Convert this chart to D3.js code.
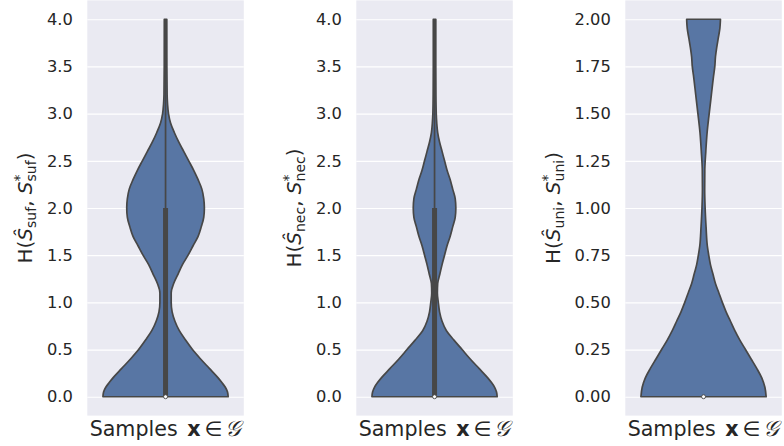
<!DOCTYPE html>
<html>
<head>
<meta charset="utf-8">
<script src="https://cdn.jsdelivr.net/npm/d3@7"></script>
<style>
  body { margin: 0; background: #ffffff; }
  svg { display: block; font-family: "DejaVu Sans", sans-serif; }
</style>
</head>
<body>
<div id="chart"></div>
<script>
// violin outlines: value level -> relative half width (1 = widest)
const levels1 = [0, 0.05, 0.1, 0.15, 0.2, 0.3, 0.4, 0.5, 0.6, 0.7, 0.8, 0.9, 1.0, 1.1, 1.2, 1.3, 1.4, 1.5, 1.6, 1.7, 1.8, 1.9, 2.0,
  2.1, 2.2, 2.3, 2.4, 2.5, 2.6, 2.7, 2.8, 2.9, 3.0, 3.1, 3.2, 3.5, 4.0];
const density1 = [1.0, 0.99, 0.955, 0.9, 0.84, 0.7, 0.56, 0.43, 0.32, 0.22, 0.15, 0.105, 0.09, 0.09, 0.13, 0.2, 0.27, 0.36, 0.44, 0.52, 0.57, 0.61, 0.62,
  0.61, 0.58, 0.52, 0.45, 0.37, 0.29, 0.21, 0.14, 0.08, 0.047, 0.032, 0.025, 0.021, 0.02];

const levels2 = [0, 0.05, 0.1, 0.15, 0.2, 0.3, 0.4, 0.5, 0.6, 0.7, 0.8, 0.9, 1.0, 1.1, 1.2, 1.3, 1.4, 1.5, 1.6, 1.7, 1.8, 1.9, 2.0,
  2.1, 2.2, 2.3, 2.4, 2.5, 2.6, 2.7, 2.8, 2.9, 3.0, 3.2, 3.5, 4.0];
const density2 = [1.0, 0.99, 0.96, 0.91, 0.85, 0.71, 0.57, 0.44, 0.31, 0.19, 0.12, 0.08, 0.06, 0.045, 0.05, 0.085, 0.12, 0.16, 0.2, 0.25, 0.29, 0.33, 0.34,
  0.33, 0.29, 0.25, 0.2, 0.16, 0.12, 0.08, 0.05, 0.035, 0.027, 0.022, 0.02, 0.02];

const levels3 = [0, 0.05, 0.1, 0.15, 0.2, 0.25, 0.3, 0.35, 0.4, 0.45, 0.5, 0.55, 0.6, 0.65, 0.7, 0.75, 0.8, 0.9, 1.0,
  1.1, 1.2, 1.3, 1.4, 1.5, 1.6, 1.7, 1.75, 1.8, 1.85, 1.9, 1.95, 2.0];
const density3 = [1.0, 0.98, 0.93, 0.85, 0.76, 0.67, 0.58, 0.5, 0.43, 0.36, 0.3, 0.245, 0.19, 0.15, 0.11, 0.083, 0.06, 0.04, 0.025,
  0.018, 0.02, 0.036, 0.057, 0.09, 0.125, 0.16, 0.18, 0.19, 0.21, 0.235, 0.26, 0.27];

// inner box: [whisker low, q1, median, q3, whisker high]
const box1 = [0, 0, 0, 2, 4];
const box2 = [0, 0, 0, 2, 4];
const box3 = [0, 0, 0, 0, 0];

const ticks1 = [0, 0.5, 1.0, 1.5, 2.0, 2.5, 3.0, 3.5, 4.0];
const ticks3 = [0, 0.25, 0.5, 0.75, 1.0, 1.25, 1.5, 1.75, 2.0];

const subs = ["suf", "nec", "uni"];

const W = 784, H = 446;
const fill = "#5876a4", gray = "#474747", bg = "#eaeaf2", textCol = "#262626";

const svg = d3.select("#chart").append("svg").attr("width", W).attr("height", H);

const panels = [
  { left: 87.3, levels: levels1, dens: density1, box: box1, ticks: ticks1, domain: [-0.2, 4.2], fmt: ".1f", sub: subs[0] },
  { left: 356.3, levels: levels2, dens: density2, box: box2, ticks: ticks1, domain: [-0.2, 4.2], fmt: ".1f", sub: subs[1] },
  { left: 625.3, levels: levels3, dens: density3, box: box3, ticks: ticks3, domain: [-0.1, 2.1], fmt: ".2f", sub: subs[2] }
];

const pw = 156.5, plotTop = 0.4, plotBottom = 415.6;

panels.forEach((p) => {
  const g = svg.append("g").attr("transform", `translate(${p.left},0)`);
  const y = d3.scaleLinear().domain(p.domain).range([plotBottom, plotTop]);
  const x = d3.scaleBand().domain(["samples"]).range([0, pw]);
  const cx = x("samples") + x.bandwidth() / 2;
  const half = d3.scaleLinear().domain([0, 1]).range([0, x.bandwidth() * 0.4]);

  g.append("rect").attr("x", 0).attr("y", plotTop).attr("width", pw).attr("height", plotBottom - plotTop).attr("fill", bg);

  const axis = g.append("g")
    .call(d3.axisLeft(y).tickValues(p.ticks).tickFormat(d3.format(p.fmt)).tickSize(-pw).tickPadding(14.5));
  axis.select(".domain").remove();
  axis.selectAll(".tick line").attr("stroke", "#ffffff").attr("stroke-width", 1.2);
  axis.selectAll(".tick text").attr("fill", textCol).style("font-size", "16.3px").style("font-family", "DejaVu Sans");

  const pts = p.levels.map((v, i) => [v, p.dens[i]]);
  const area = d3.area()
    .y((d) => y(d[0]))
    .x0((d) => cx - half(d[1]))
    .x1((d) => cx + half(d[1]))
    .curve(d3.curveMonotoneY);
  g.append("path").datum(pts).attr("d", area)
    .attr("fill", fill).attr("stroke", gray).attr("stroke-width", 1.7).attr("stroke-linejoin", "round");

  const [wlo, q1, med, q3, whi] = p.box;
  if (whi > wlo) {
    g.append("line").attr("x1", cx).attr("x2", cx).attr("y1", y(wlo)).attr("y2", y(whi))
      .attr("stroke", gray).attr("stroke-width", 1.7);
  }
  if (q3 > q1) {
    g.append("line").attr("x1", cx).attr("x2", cx).attr("y1", y(q1)).attr("y2", y(q3))
      .attr("stroke", gray).attr("stroke-width", 5);
  }
  g.append("circle").attr("cx", cx).attr("cy", y(med)).attr("r", 2)
    .attr("fill", "#ffffff").attr("stroke", gray).attr("stroke-width", 0.9);

  // x label
  const xl = g.append("text").attr("x", cx).attr("y", 436).attr("text-anchor", "middle")
    .attr("fill", textCol).style("font-size", "20.6px");
  xl.append("tspan").text("Samples ");
  xl.append("tspan").attr("dx", 3).style("font-weight", "bold").text("x");
  xl.append("tspan").attr("dx", 4).text("\u2208");
  xl.append("tspan").attr("dx", 3).style("font-style", "italic").style("font-size", "22px").text("\ud835\udca2");

  // y label
  const tickLeft = d3.min(axis.selectAll(".tick text").nodes(), (n) => n.getBBox().x);
  const lx = tickLeft - 14.5;
  const ly = (plotTop + plotBottom) / 2;
  const yl = g.append("text").attr("transform", `translate(${lx},${ly}) rotate(-90)`)
    .attr("text-anchor", "middle").attr("fill", textCol).style("font-size", "20px");
  const sh = 4;
  yl.append("tspan").text("H(");
  yl.append("tspan").style("font-style", "italic").text("\u015c");
  yl.append("tspan").attr("dy", sh).style("font-size", "14px").text(p.sub);
  yl.append("tspan").attr("dy", -sh).text(", ");
  yl.append("tspan").style("font-style", "italic").text("S");
  const star = yl.append("tspan").attr("dy", -8).style("font-size", "14px").text("*");
  const starW = star.node().getComputedTextLength();
  yl.append("tspan").attr("dx", -starW).attr("dy", 8 + sh).style("font-size", "14px").text(p.sub);
  yl.append("tspan").attr("dy", -sh).text(")");
});
</script>
</body>
</html>
